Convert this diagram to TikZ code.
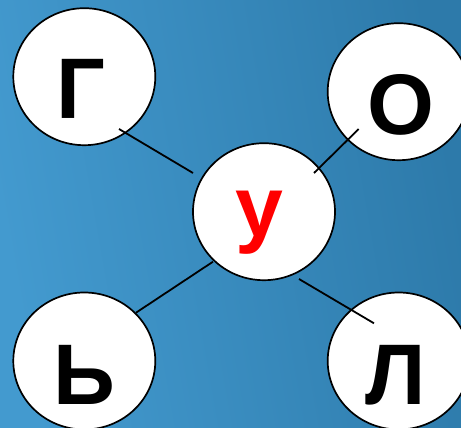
\documentclass[tikz,border=0pt]{standalone}
\usepackage{fontspec}
\setmainfont{Liberation Sans}
\usetikzlibrary{shapes.geometric}
\definecolor{bgL}{RGB}{67,154,207}
\definecolor{bgR}{RGB}{45,122,170}
\tikzset{
  bubble/.style={ellipse, draw=black, fill=white, line width=1.7pt, minimum width=142pt, minimum height=137pt, inner sep=0pt},
  letter/.style={anchor=base, inner sep=0pt, font=\fontsize{86}{86}\selectfont\bfseries},
  link/.style={draw=black, line width=1.8pt}
}
\begin{document}
\begin{tikzpicture}[x=1pt,y=-1pt]
\useasboundingbox (0,0) rectangle (461,428);
\shade[left color=bgL, right color=bgR, shading angle=100] (0,0) rectangle (461,428);
\node[bubble] (g) at (84.3,76.7) {};
\node[bubble] (o) at (398.7,91.7) {};
\node[bubble] (u) at (264,211.7) {};
\node[bubble] (soft) at (84.3,361) {};
\node[bubble] (l) at (398.7,361) {};
\coordinate (g1) at (119,129);
\coordinate (g2) at (193,173);
\coordinate (o1) at (358.7,129);
\coordinate (o2) at (314,173);
\coordinate (s1) at (136,312.7);
\coordinate (s2) at (213,261.7);
\coordinate (l1) at (299,279);
\coordinate (l2) at (374,323.3);
\draw[link] (g1) -- (g2);
\draw[link] (o1) -- (o2);
\draw[link] (s1) -- (s2);
\draw[link] (l1) -- (l2);
\node[letter] (gt) at (81,118) {Г};
\node[letter] (ot) at (400.5,134.5) {О};
\node[letter, text=red] (ut) at (259.5,236) {у};
\node[letter] (st) at (84.5,404) {Ь};
\node[letter] (lt) at (396,404) {Л};
\end{tikzpicture}
\end{document}
